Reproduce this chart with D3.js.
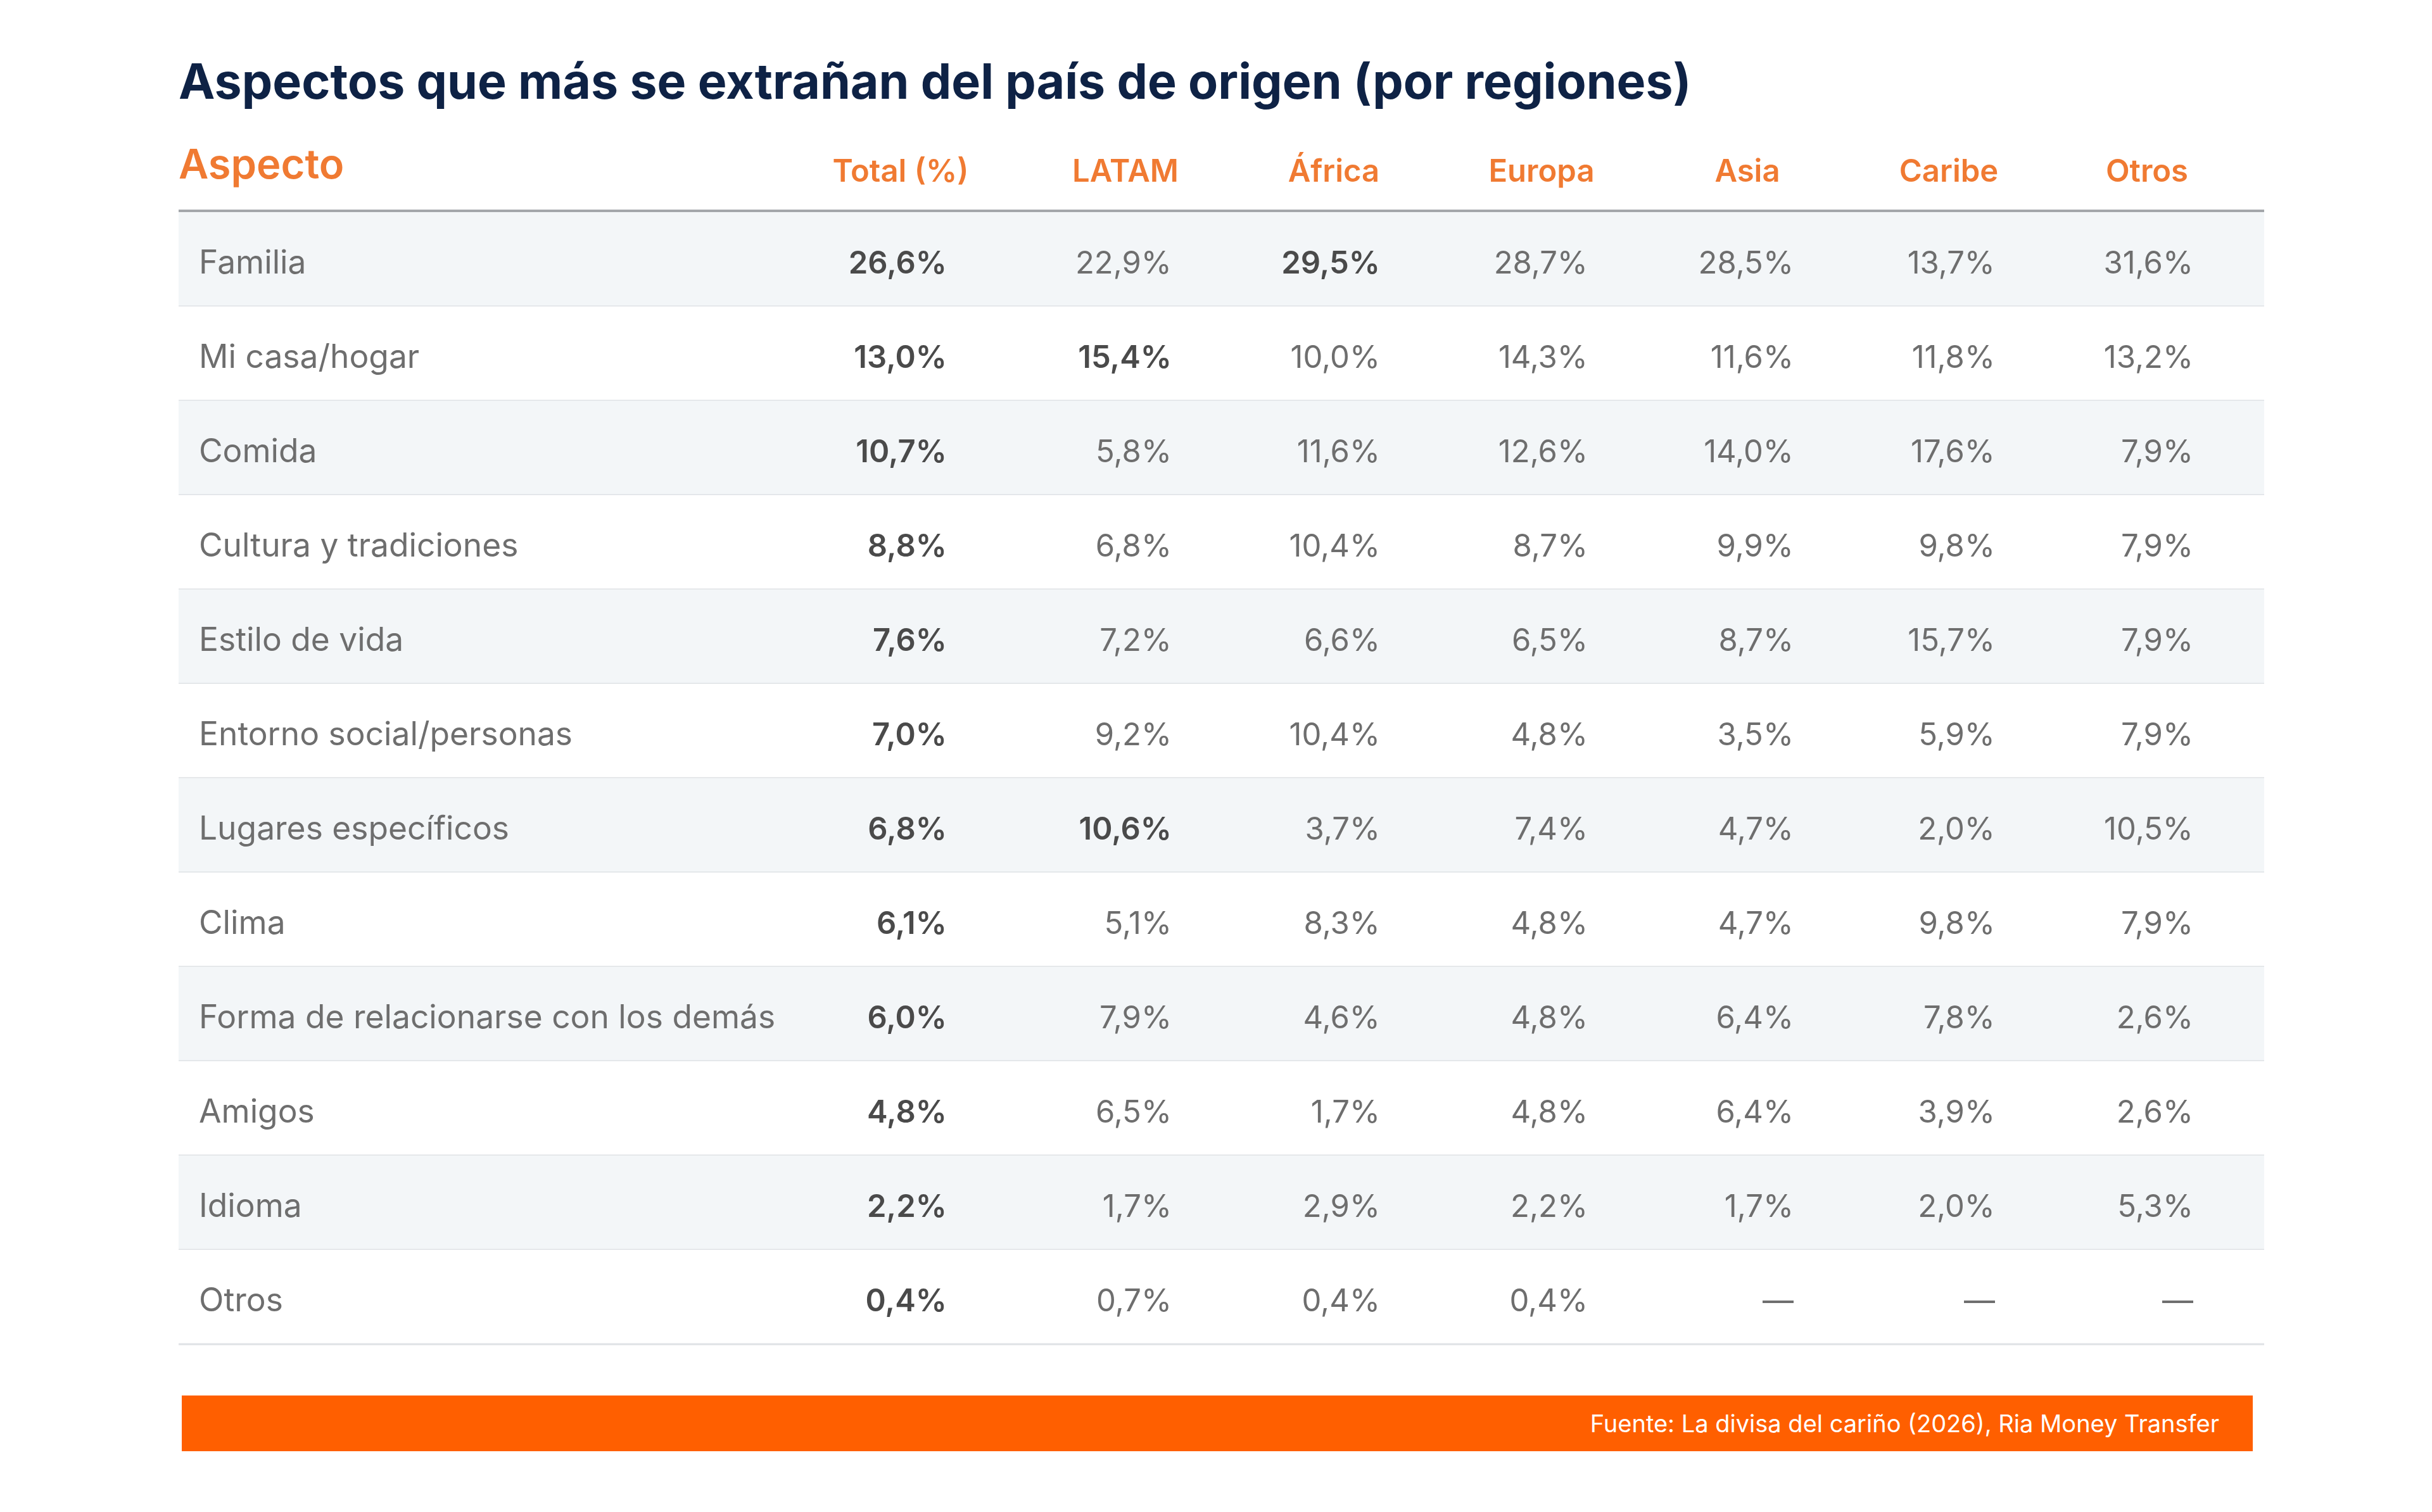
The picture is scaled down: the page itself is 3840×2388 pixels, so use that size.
<!DOCTYPE html>
<html>
<head>
<meta charset="utf-8">
<title>Aspectos que más se extrañan del país de origen</title>
<script src="https://d3js.org/d3.v7.min.js"></script>
<style>
  html, body { margin: 0; padding: 0; background: #fff; }
  svg { display: block; font-family: Inter, "Noto Sans", sans-serif; }
</style>
</head>
<body>
<svg id="chart" width="3840" height="2388"></svg>
<script>
const aspectos = ["Familia", "Mi casa/hogar", "Comida", "Cultura y tradiciones", "Estilo de vida",
  "Entorno social/personas", "Lugares específicos", "Clima", "Forma de relacionarse con los demás",
  "Amigos", "Idioma", "Otros"];
const columnas = ["Total (%)", "LATAM", "África", "Europa", "Asia", "Caribe", "Otros"];

const total  = [26.6, 13.0, 10.7, 8.8, 7.6, 7.0, 6.8, 6.1, 6.0, 4.8, 2.2, 0.4];
const latam  = [22.9, 15.4, 5.8, 6.8, 7.2, 9.2, 10.6, 5.1, 7.9, 6.5, 1.7, 0.7];
const africa = [29.5, 10.0, 11.6, 10.4, 6.6, 10.4, 3.7, 8.3, 4.6, 1.7, 2.9, 0.4];
const europa = [28.7, 14.3, 12.6, 8.7, 6.5, 4.8, 7.4, 4.8, 4.8, 4.8, 2.2, 0.4];
const asia   = [28.5, 11.6, 14.0, 9.9, 8.7, 3.5, 4.7, 4.7, 6.4, 6.4, 1.7, null];
const caribe = [13.7, 11.8, 17.6, 9.8, 15.7, 5.9, 2.0, 9.8, 7.8, 3.9, 2.0, null];
const otros  = [31.6, 13.2, 7.9, 7.9, 7.9, 7.9, 10.5, 7.9, 2.6, 2.6, 5.3, null];

// celdas resaltadas en negrita fuera de la columna Total
const destacados = [["Familia", "África"], ["Mi casa/hogar", "LATAM"], ["Lugares específicos", "LATAM"]];

const titulo = "Aspectos que más se extrañan del país de origen (por regiones)";
const fuente = "Fuente: La divisa del cariño (2026), Ria Money Transfer";

const series = [total, latam, africa, europa, asia, caribe, otros];

const es = d3.formatLocale({ decimal: ",", thousands: ".", grouping: [3], currency: ["", " €"] });
const fmt = v => v == null ? "—" : es.format(".1f")(v) + "%";

const svg = d3.select("#chart");

const left = 282, right = 3575;
const headerLine = 333;
const rowH = 149;

const y = d3.scaleBand()
  .domain(aspectos)
  .range([headerLine + 2, headerLine + 2 + rowH * aspectos.length]);

// centros de columna (la tabla ajusta el ancho al contenido)
const xc = d3.scaleOrdinal()
  .domain(columnas)
  .range([1422, 1777, 2106, 2434, 2759, 3077, 3390]);
const half = 73;

// título
svg.append("text")
  .attr("x", left)
  .attr("y", 156)
  .attr("font-size", 77)
  .attr("font-weight", 700)
  .attr("fill", "#0e2245")
  .text(titulo);

// cabecera
svg.append("text")
  .attr("x", left)
  .attr("y", 282)
  .attr("font-size", 65)
  .attr("font-weight", 600)
  .attr("fill", "#f07a32")
  .text("Aspecto");

svg.selectAll("text.col")
  .data(columnas)
  .enter()
  .append("text")
  .attr("class", "col")
  .attr("x", d => xc(d))
  .attr("y", 287)
  .attr("text-anchor", "middle")
  .attr("font-size", 49)
  .attr("font-weight", 600)
  .attr("fill", "#f07a32")
  .text(d => d);

// filas
const filas = svg.selectAll("g.fila")
  .data(aspectos)
  .enter()
  .append("g")
  .attr("class", "fila")
  .attr("transform", d => `translate(0,${y(d)})`);

filas.append("rect")
  .attr("x", left)
  .attr("width", right - left)
  .attr("height", y.bandwidth())
  .attr("fill", (d, i) => i % 2 === 0 ? "#f3f6f8" : "#ffffff");

filas.append("line")
  .attr("x1", left)
  .attr("x2", right)
  .attr("y1", y.bandwidth())
  .attr("y2", y.bandwidth())
  .attr("stroke", "#dfe2e5")
  .attr("stroke-width", 3);

filas.append("text")
  .attr("x", 314)
  .attr("y", y.bandwidth() / 2 + 22)
  .attr("font-size", 51.5)
  .attr("fill", "#6e6e6e")
  .text(d => d);

const esDestacado = (a, c) => c === "Total (%)" || destacados.some(p => p[0] === a && p[1] === c);

filas.each(function(a, i) {
  d3.select(this).selectAll("text.val")
    .data(columnas.map((c, j) => ({ c, v: series[j][i] })))
    .enter()
    .append("text")
    .attr("class", "val")
    .attr("x", d => xc(d.c) + half)
    .attr("y", y.bandwidth() / 2 + 22)
    .attr("text-anchor", "end")
    .attr("font-size", 49)
    .attr("font-weight", d => esDestacado(a, d.c) ? 600 : 400)
    .attr("fill", d => esDestacado(a, d.c) ? "#4a4a4a" : "#6e6e6e")
    .text(d => fmt(d.v));
});

// línea bajo la cabecera
svg.append("line")
  .attr("x1", left)
  .attr("x2", right)
  .attr("y1", headerLine)
  .attr("y2", headerLine)
  .attr("stroke", "#a3a6aa")
  .attr("stroke-width", 4);

// pie con la fuente
svg.append("rect")
  .attr("x", 287)
  .attr("y", 2204)
  .attr("width", 3557 - 287)
  .attr("height", 88)
  .attr("fill", "#ff5f00");

svg.append("text")
  .attr("x", 3504)
  .attr("y", 2262)
  .attr("text-anchor", "end")
  .attr("font-size", 38)
  .attr("fill", "#ffffff")
  .text(fuente);
</script>
</body>
</html>
